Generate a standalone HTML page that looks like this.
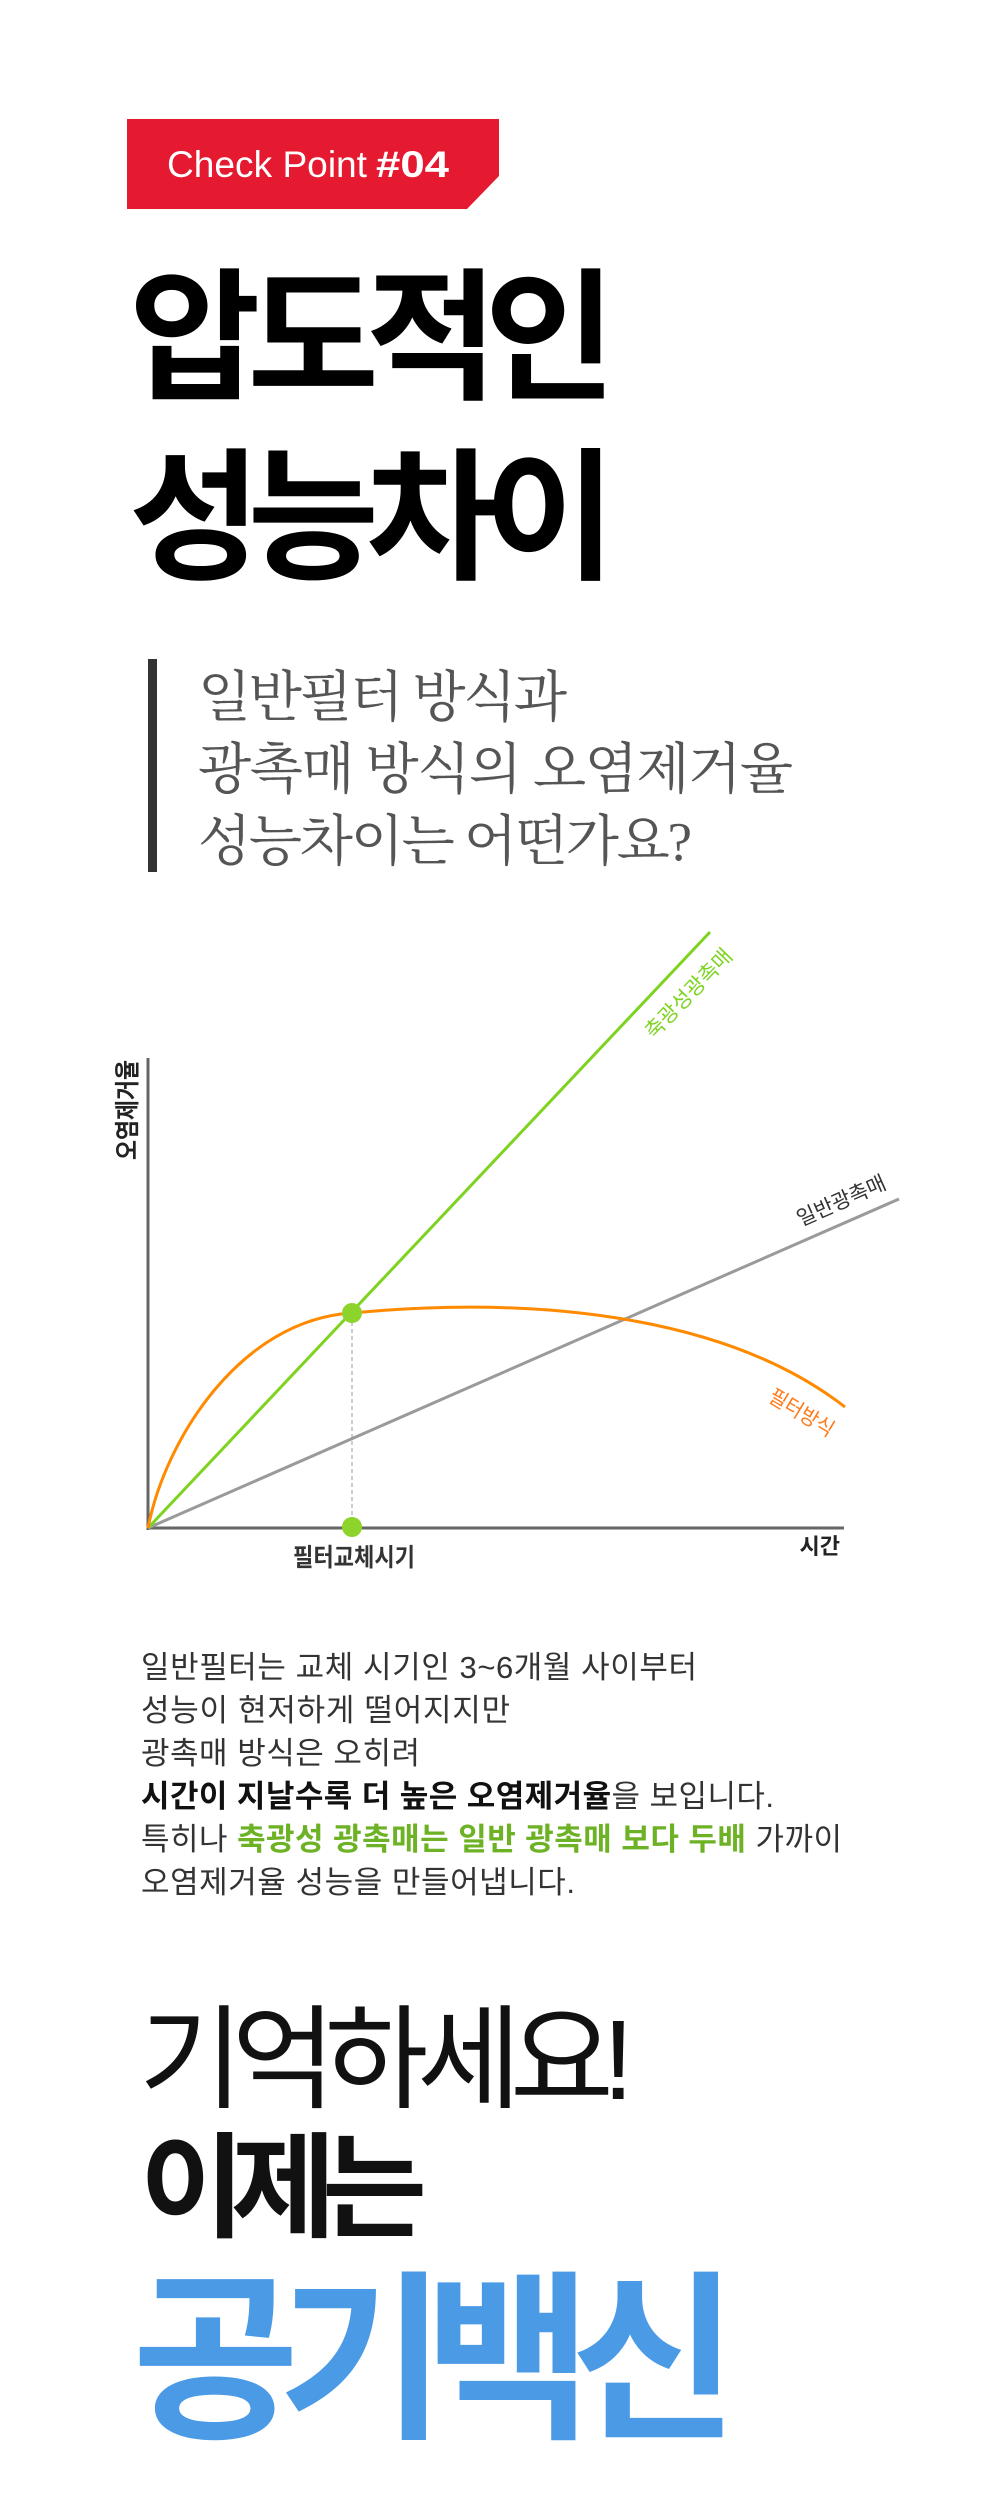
<!DOCTYPE html>
<html>
<head>
<meta charset="utf-8">
<style>
html,body{margin:0;padding:0;background:#fff;}
svg{display:block;}
.sans{font-family:"Liberation Sans","Noto Sans CJK KR",sans-serif;}
.serif{font-family:"Liberation Serif","Noto Serif CJK SC",serif;}
</style>
</head>
<body>
<svg width="1000" height="2504" viewBox="0 0 1000 2504" xmlns="http://www.w3.org/2000/svg">
  <rect x="0" y="0" width="1000" height="2504" fill="#fff"/>

  <!-- Banner -->
  <polygon points="127,119 499,119 499,176 467,209 127,209" fill="#e5192f"/>
  <text class="sans" x="167" y="177" font-size="37" fill="#fff" textLength="200" lengthAdjust="spacingAndGlyphs">Check Point</text>
  <text class="sans" x="376" y="177" font-size="37" font-weight="700" fill="#fff" textLength="73" lengthAdjust="spacingAndGlyphs">#04</text>

  <!-- Title -->
  <text class="sans" x="129" y="388" font-size="143" font-weight="700" fill="#000" textLength="487" lengthAdjust="spacing">압도적인</text>
  <text class="sans" x="129" y="568" font-size="143" font-weight="700" fill="#000" textLength="487" lengthAdjust="spacing">성능차이</text>

  <!-- Subtitle -->
  <rect x="148" y="659" width="9" height="213" fill="#333"/>
  <text class="serif" x="198" y="716" font-size="55" fill="#555" textLength="369" lengthAdjust="spacing">일반필터 방식과</text>
  <text class="serif" x="198" y="788" font-size="55" fill="#555" textLength="595" lengthAdjust="spacing">광촉매 방식의 오염제거율</text>
  <text class="serif" x="198" y="860" font-size="55" fill="#555" textLength="494" lengthAdjust="spacing">성능차이는 어떤가요?</text>

  <!-- Chart -->
  <line x1="148" y1="1058" x2="148" y2="1530" stroke="#666" stroke-width="3"/>
  <line x1="147" y1="1528" x2="844" y2="1528" stroke="#666" stroke-width="3"/>
  <line x1="148" y1="1528" x2="899" y2="1199" stroke="#9a9a9a" stroke-width="3"/>
  <line x1="148" y1="1528" x2="710" y2="932" stroke="#7ed321" stroke-width="3"/>
  <path d="M148,1528 C165,1440 240,1320 352,1313 C520,1297 720,1310 845,1407" fill="none" stroke="#ff8a00" stroke-width="3"/>
  <line x1="352" y1="1322" x2="352" y2="1520" stroke="#999" stroke-width="1" stroke-dasharray="4,3"/>
  <circle cx="352" cy="1313" r="10" fill="#8cd42b"/>
  <circle cx="352" cy="1527" r="10" fill="#8cd42b"/>

  <text class="sans" transform="translate(136,1110) rotate(-90)" x="0" y="0" font-size="25" font-weight="700" fill="#222" text-anchor="middle" textLength="100" lengthAdjust="spacingAndGlyphs">오염제거율</text>
  <text class="sans" x="354" y="1566" font-size="25" font-weight="700" fill="#333" text-anchor="middle" textLength="122" lengthAdjust="spacingAndGlyphs">필터교체시기</text>
  <text class="sans" x="840" y="1554" font-size="22" font-weight="700" fill="#222" text-anchor="end">시간</text>

  <text class="sans" transform="translate(688,993) rotate(-46)" x="0" y="8" font-size="21" fill="#7ed321" text-anchor="middle" textLength="115" lengthAdjust="spacingAndGlyphs">축광성광촉매</text>
  <text class="sans" transform="translate(841,1200) rotate(-23.8)" x="0" y="8" font-size="21" fill="#333" text-anchor="middle" textLength="95" lengthAdjust="spacingAndGlyphs">일반광촉매</text>
  <text class="sans" transform="translate(802,1412) rotate(31)" x="0" y="8" font-size="21" fill="#ff7a1a" text-anchor="middle" textLength="72" lengthAdjust="spacingAndGlyphs">필터방식</text>

  <!-- Paragraph -->
  <text class="sans" x="141" y="1678" font-size="31" fill="#333" textLength="556" lengthAdjust="spacing">일반필터는 교체 시기인 3~6개월 사이부터</text>
  <text class="sans" x="141" y="1721" font-size="31" fill="#333" textLength="369" lengthAdjust="spacing">성능이 현저하게 떨어지지만</text>
  <text class="sans" x="141" y="1764" font-size="31" fill="#333" textLength="279" lengthAdjust="spacing">광촉매 방식은 오히려</text>
  <text class="sans" x="141" y="1807" font-size="31" fill="#333" textLength="633" lengthAdjust="spacing"><tspan font-weight="700" fill="#111">시간이 지날수록 더 높은 오염제거율</tspan>을 보입니다.</text>
  <text class="sans" x="141" y="1850" font-size="31" fill="#333" textLength="701" lengthAdjust="spacing">특히나 <tspan font-weight="700" fill="#6db225">축광성 광촉매는 일반 광촉매 보다 두배</tspan> 가까이</text>
  <text class="sans" x="141" y="1893" font-size="31" fill="#333" textLength="434" lengthAdjust="spacing">오염제거율 성능을 만들어냅니다.</text>

  <!-- Bottom -->
  <text class="sans" x="139" y="2099" font-size="113" fill="#111" textLength="495" lengthAdjust="spacing">기억하세요!</text>
  <text class="sans" x="140" y="2228" font-size="114" font-weight="700" fill="#111" textLength="287" lengthAdjust="spacing">이제는</text>
  <text class="sans" x="132" y="2424" font-size="182" font-weight="700" fill="#4b9ae6" textLength="606" lengthAdjust="spacing">공기백신</text>
</svg>
</body>
</html>
